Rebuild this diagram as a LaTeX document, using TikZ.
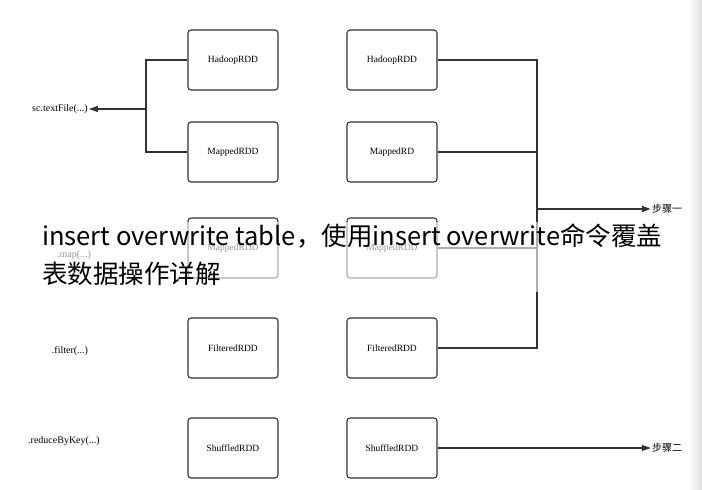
\documentclass[tikz,border=0pt]{standalone}
\usepackage{fontspec}
\setmainfont{Liberation Serif}
\newfontfamily\cjk{Noto Sans CJK SC}
\usetikzlibrary{arrows.meta}
\begin{document}
\begin{tikzpicture}[x=1pt,y=-1pt,
  rdd/.style={draw=black!80,line width=1.1pt,rounded corners=3pt,minimum width=90pt,minimum height=60pt,inner sep=0pt,font=\fontsize{9.5}{11}\selectfont},
  lbl/.style={font=\fontsize{10}{12}\selectfont,inner sep=1pt},
  wire/.style={draw=black!80,line width=1.1pt},
  arr/.style={wire,-{Triangle[length=9pt,width=6pt]}}]
\useasboundingbox (0,0) rectangle (702,490);
\fill[white] (0,0) rectangle (702,490);
\shade[left color=white,right color=black!12] (688,0) rectangle (702,490);
\foreach \n/\t/\y in {a1/HadoopRDD/60,a2/MappedRDD/152,a3/MappedRDD/248,a4/FilteredRDD/348,a5/ShuffledRDD/448}
  \node[rdd] (\n) at (233,\y) {\t};
\foreach \n/\t/\y in {b1/HadoopRDD/60,b2/MappedRD/152,b3/MappedRDD/248,b4/FilteredRDD/348,b5/ShuffledRDD/448}
  \node[rdd] (\n) at (392,\y) {\t};
\node[lbl] (tf) at (60,109) {sc.textFile(...)};
\node[lbl] (mp) at (74,255) {.map(...)};
\node[lbl] (fl) at (70,351) {.filter(...)};
\node[lbl] (rk) at (64,441) {.reduceByKey(...)};
\node[lbl] (s1) at (667,209) {\cjk 步骤一};
\node[lbl] (s2) at (667,448) {\cjk 步骤二};
\coordinate (j) at (146,109);
\coordinate (r) at (537,209);
\draw[wire] (a1.west) -| (j) |- (a2.west);
\draw[arr] (j) -- (tf.east);
\draw[wire] (b1.east) -| (r);
\draw[wire] (b2.east) -| (r);
\draw[wire] (b3.east) -| (r);
\draw[wire] (b4.east) -| (r);
\draw[arr,line width=2pt] (r) -- (s1.west);
\draw[arr] (b5.east) -- (s2.west);
\fill[white,opacity=0.6] (0,222) rectangle (690,292);
\node[anchor=base west,inner sep=0pt,font=\cjk\fontsize{25.5}{30}\selectfont] (ov1) at (42,245) {insert overwrite table，使用insert overwrite命令覆盖};
\node[anchor=base west,inner sep=0pt,font=\cjk\fontsize{25.5}{30}\selectfont] (ov2) at (42,283) {表数据操作详解};
\end{tikzpicture}
\end{document}
